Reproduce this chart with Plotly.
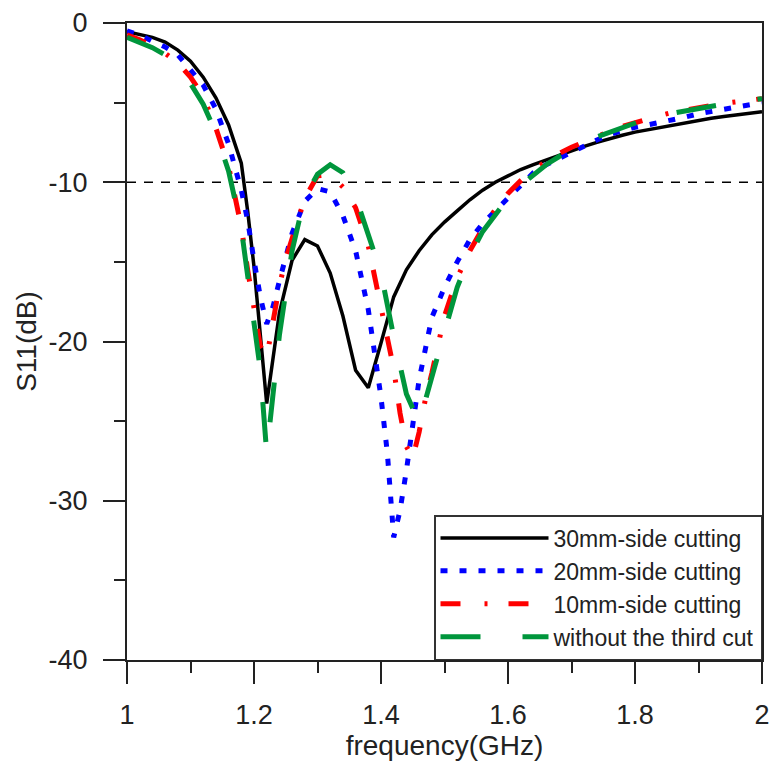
import plotly.graph_objects as go

# ---------------- data ----------------
freq_30 = [1.00, 1.02, 1.04, 1.06, 1.08, 1.10, 1.12, 1.14, 1.16, 1.18, 1.19, 1.20, 1.21, 1.22,
           1.24, 1.26, 1.28, 1.30, 1.32, 1.34, 1.36, 1.38, 1.40, 1.42, 1.44, 1.46, 1.48, 1.50,
           1.52, 1.54, 1.56, 1.58, 1.60, 1.62, 1.64, 1.66, 1.68, 1.70, 1.72, 1.74, 1.76, 1.78,
           1.80, 1.82, 1.84, 1.86, 1.88, 1.90, 1.92, 1.94, 1.96, 1.98, 2.00]
s11_30 = [-0.55, -0.7, -0.9, -1.2, -1.7, -2.4, -3.4, -4.7, -6.4, -8.8, -11.8, -15.3, -19.7, -23.9,
          -18.2, -14.9, -13.6, -14.0, -15.7, -18.4, -21.8, -22.9, -20.1, -17.2, -15.5, -14.3, -13.3, -12.5,
          -11.8, -11.1, -10.5, -10.0, -9.6, -9.2, -8.9, -8.6, -8.3, -8.0, -7.75, -7.5, -7.25, -7.05,
          -6.85, -6.7, -6.55, -6.4, -6.25, -6.1, -5.98, -5.87, -5.77, -5.67, -5.57]

freq_20 = [1.00, 1.02, 1.04, 1.06, 1.08, 1.10, 1.12, 1.14, 1.16, 1.18, 1.19, 1.20, 1.21, 1.22,
           1.23, 1.24, 1.26, 1.28, 1.30, 1.32, 1.34, 1.36, 1.38, 1.40, 1.41, 1.42, 1.43, 1.44,
           1.46, 1.48, 1.50, 1.52, 1.54, 1.56, 1.58, 1.60, 1.62, 1.64, 1.66, 1.68, 1.70, 1.72,
           1.74, 1.76, 1.78, 1.80, 1.82, 1.84, 1.86, 1.88, 1.90, 1.92, 1.94, 1.96, 1.98, 2.00]
s11_20 = [-0.5, -0.75, -1.15, -1.5, -2.0, -2.9, -3.9, -5.4, -7.6, -10.5, -12.4, -14.9, -17.2, -18.9,
          -17.8, -16.2, -13.2, -11.2, -10.4, -10.6, -12.1, -14.3, -18.0, -23.5, -27.0, -32.3, -30.6, -28.1,
          -22.4, -18.5, -16.6, -15.0, -13.6, -12.6, -11.8, -11.0, -10.1, -9.4, -8.9, -8.5, -8.1, -7.7,
          -7.35, -7.0, -6.75, -6.55, -6.4, -6.25, -6.1, -5.9, -5.7, -5.55, -5.4, -5.25, -5.1, -5.0]

freq_10 = [1.00, 1.02, 1.04, 1.06, 1.08, 1.10, 1.12, 1.14, 1.16, 1.18, 1.19, 1.20, 1.21, 1.22,
           1.23, 1.24, 1.25, 1.26, 1.28, 1.30, 1.32, 1.34, 1.36, 1.38, 1.40, 1.42, 1.43, 1.44,
           1.45, 1.46, 1.47, 1.48, 1.50, 1.52, 1.54, 1.56, 1.58, 1.60, 1.62, 1.64, 1.66, 1.68,
           1.70, 1.72, 1.74, 1.76, 1.78, 1.80, 1.82, 1.84, 1.86, 1.88, 1.90, 1.92, 1.94, 1.96,
           1.98, 2.00]
s11_10 = [-0.75, -1.05, -1.45, -1.9, -2.5, -3.4, -4.6, -6.6, -9.0, -12.8, -15.5, -18.0, -20.3, -21.0,
          -18.8, -16.5, -14.8, -13.6, -11.0, -9.6, -9.5, -10.3, -11.6, -14.0, -18.0, -21.7, -24.5, -26.6,
          -27.3, -25.7, -23.6, -22.0, -18.4, -16.0, -14.3, -12.9, -11.7, -10.7, -9.9, -9.2, -8.7, -8.2,
          -7.8, -7.45, -7.1, -6.8, -6.5, -6.25, -6.0, -5.8, -5.6, -5.45, -5.3, -5.15, -5.05, -4.95,
          -4.85, -4.75]

freq_0 = [1.00, 1.02, 1.04, 1.06, 1.08, 1.10, 1.12, 1.14, 1.16, 1.18, 1.19, 1.20, 1.21, 1.22,
          1.23, 1.24, 1.25, 1.26, 1.28, 1.30, 1.32, 1.34, 1.36, 1.38, 1.40, 1.42, 1.44, 1.46,
          1.47, 1.48, 1.50, 1.52, 1.54, 1.56, 1.58, 1.60, 1.62, 1.64, 1.66, 1.68, 1.70, 1.72,
          1.74, 1.76, 1.78, 1.80, 1.82, 1.84, 1.86, 1.88, 1.90, 1.92, 1.94, 1.96, 1.98, 2.00]
s11_0 = [-0.9, -1.2, -1.55, -2.0, -2.8, -3.8, -5.1, -6.9, -9.3, -12.9, -15.8, -19.0, -21.8, -27.0,
         -23.0, -19.6, -16.9, -14.3, -10.9, -9.5, -8.9, -9.4, -10.9, -13.2, -15.7, -19.7, -23.3, -25.1,
         -23.6, -22.2, -19.4, -16.6, -14.6, -13.1, -12.0, -11.0, -10.2, -9.5, -8.9, -8.4, -7.95, -7.55,
         -7.15, -6.85, -6.55, -6.25, -6.0, -5.8, -5.65, -5.5, -5.35, -5.2, -5.05, -4.95, -4.85, -4.75]

series_names = ["30mm-side cutting", "20mm-side cutting", "10mm-side cutting", "without the third cut"]
threshold_db = -10
freq_range = [1.0, 2.0]
x_tick_vals = [1.0, 1.2, 1.4, 1.6, 1.8, 2.0]
x_tick_text = ["1", "1.2", "1.4", "1.6", "1.8", "2"]
y_tick_vals = [0, -10, -20, -30, -40]
y_tick_text = ["0", "-10", "-20", "-30", "-40"]

# ---------------- styles ----------------
FONT = "Liberation Sans, Arial, sans-serif"
styles = [
    dict(color="#000000", width=3.5, dash="solid"),
    dict(color="#0000FF", width=5, dash="7px,12px"),
    dict(color="#FF0000", width=5, dash="20px,24px,3px,21px"),
    dict(color="#00963C", width=5, dash="40px,42px"),
]

fig = go.Figure()

# threshold line
fig.add_trace(go.Scatter(
    x=freq_range, y=[threshold_db, threshold_db], mode="lines",
    line=dict(color="black", width=1.5, dash="9px,8px"),
    showlegend=False, hoverinfo="skip"))

for fx, fy, name, st in zip([freq_30, freq_20, freq_10, freq_0],
                            [s11_30, s11_20, s11_10, s11_0],
                            series_names, styles):
    fig.add_trace(go.Scatter(x=fx, y=fy, mode="lines", name=name, line=st))

axis_common = dict(
    showgrid=False, zeroline=False, showline=True, linecolor="#222", linewidth=2,
    mirror=True, ticks="outside", tickwidth=2, tickcolor="#222", automargin=False,
    tickfont=dict(family=FONT, size=27, color="#222"),
)

fig.update_layout(
    width=772, height=761,
    margin=dict(l=127, r=10, t=23, b=101, autoexpand=False),
    paper_bgcolor="white", plot_bgcolor="white",
    font=dict(family=FONT, color="#222"),
    xaxis=dict(
        range=freq_range, tickvals=x_tick_vals, ticktext=x_tick_text, ticklen=22,
        ticklabelstandoff=8,
        minor=dict(ticks="outside", ticklen=11, dtick=0.1, tickwidth=2, tickcolor="#222"),
        title=dict(text="frequency(GHz)", font=dict(family=FONT, size=28, color="#222"), standoff=4),
        **axis_common),
    yaxis=dict(
        range=[-40, 0], tickvals=y_tick_vals, ticktext=y_tick_text, ticklen=22,
        ticklabelstandoff=10,
        minor=dict(ticks="outside", ticklen=11, dtick=5, tickwidth=2, tickcolor="#222"),
        title=dict(text="S11(dB)", font=dict(family=FONT, size=28, color="#222"), standoff=4),
        **axis_common),
    legend=dict(
        x=1, xanchor="right", y=0, yanchor="bottom",
        bgcolor="white", bordercolor="#333", borderwidth=1.5,
        font=dict(family=FONT, size=23, color="#222"),
        itemwidth=108, tracegroupgap=0,
    ),
)

fig.write_html("out.html")
